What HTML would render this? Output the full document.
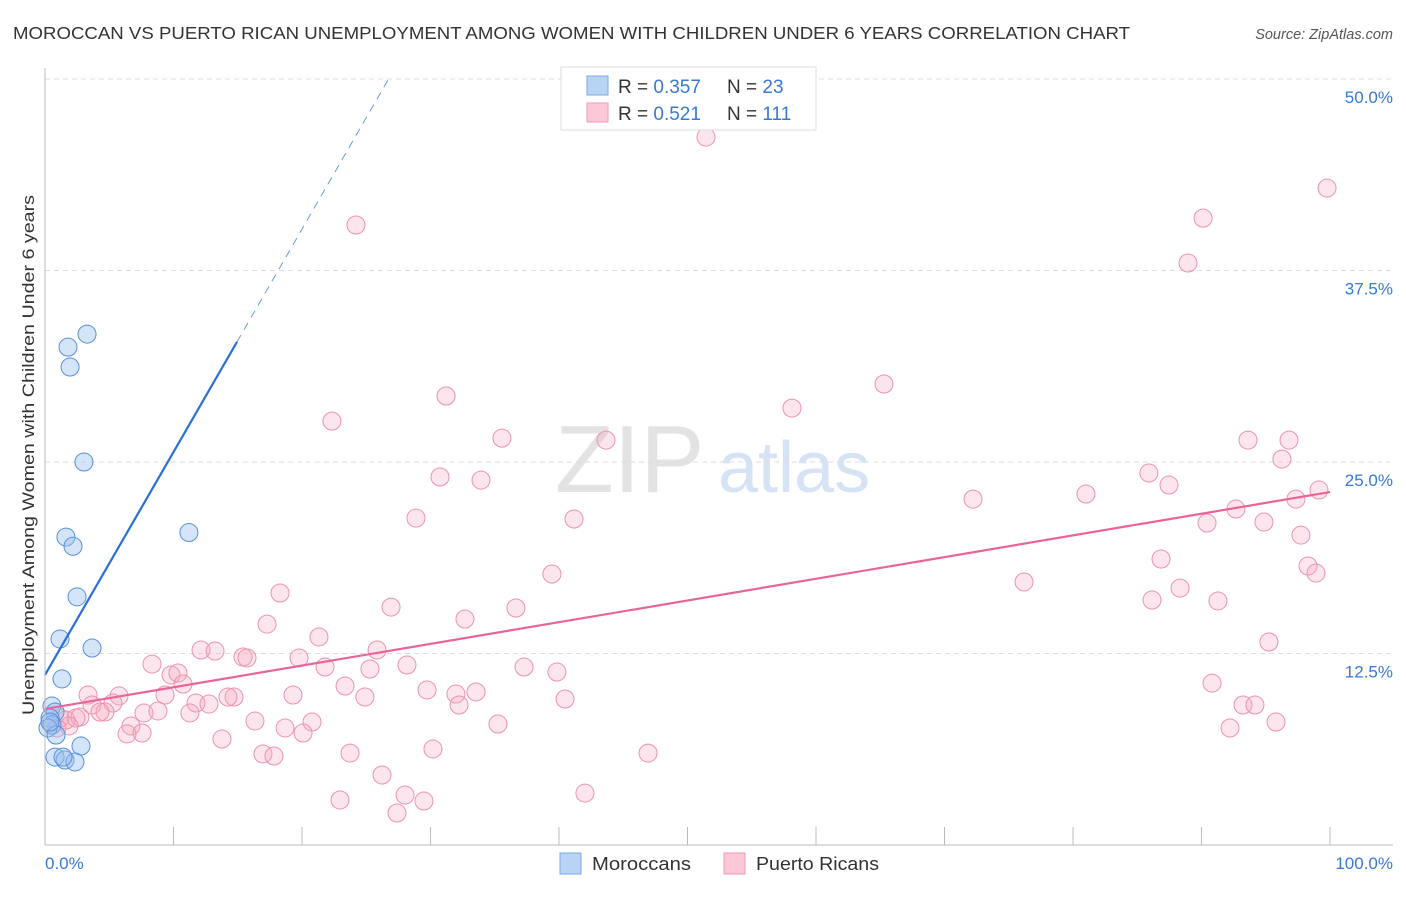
<!DOCTYPE html>
<html><head><meta charset="utf-8"><style>
body{margin:0;background:#fff;font-family:"Liberation Sans",sans-serif;}
svg text{font-family:"Liberation Sans",sans-serif;}
</style></head><body>
<svg id="chart" width="1406" height="892" viewBox="0 0 1406 892" xmlns="http://www.w3.org/2000/svg">
<text x="13" y="39" font-size="17.5" fill="#333" textLength="1117" lengthAdjust="spacingAndGlyphs">MOROCCAN VS PUERTO RICAN UNEMPLOYMENT AMONG WOMEN WITH CHILDREN UNDER 6 YEARS CORRELATION CHART</text>
<text x="1393" y="39" font-size="14.5" fill="#555" font-style="italic" text-anchor="end">Source: ZipAtlas.com</text>
<g>
<text x="555" y="492" font-size="96" font-family="Liberation Serif,serif" fill="#e3e3e3">ZIP</text>
<text x="718" y="492" font-size="72" fill="#d5e3f5">atlas</text>
</g>
<g id="grid"></g>
<g id="marks"></g>
<line x1="45" y1="68" x2="45" y2="845" stroke="#bbb"/>
<line x1="45" y1="845" x2="1393" y2="845" stroke="#bbb"/>
<text transform="translate(34,455) rotate(-90)" font-size="17" fill="#333" text-anchor="middle" textLength="520" lengthAdjust="spacingAndGlyphs">Unemployment Among Women with Children Under 6 years</text>
<text x="45" y="869" font-size="17" fill="#3a78d6">0.0%</text>
<text x="1393" y="869" font-size="17" fill="#3a78d6" text-anchor="end">100.0%</text>
<g>
<rect x="561" y="67" width="255" height="63" fill="#fff" stroke="#ddd"/>
<rect x="587" y="76" width="21" height="19" fill="#b9d3f5" stroke="#7aa7e3"/>
<rect x="587" y="103" width="21" height="19" fill="#fcc8d7" stroke="#ee9ab3"/>
<text x="618" y="93" font-size="19" fill="#333">R = <tspan fill="#3a78d6">0.357</tspan><tspan x="727">N = </tspan><tspan fill="#3a78d6"> 23</tspan></text>
<text x="618" y="120" font-size="19" fill="#333">R = <tspan fill="#3a78d6"> 0.521</tspan><tspan x="727">N = </tspan><tspan fill="#3a78d6">111</tspan></text>
</g>
<g>
<rect x="560" y="853" width="21" height="21" fill="#b9d3f5" stroke="#7aa7e3"/>
<text x="592" y="870" font-size="18" fill="#333" textLength="99" lengthAdjust="spacingAndGlyphs">Moroccans</text>
<rect x="724" y="853" width="21" height="21" fill="#fcc8d7" stroke="#ee9ab3"/>
<text x="756" y="870" font-size="18" fill="#333" textLength="123" lengthAdjust="spacingAndGlyphs">Puerto Ricans</text>
</g>
</svg>
<script>
const yTicks=[12.5,25,37.5,50];
const yTickLabels=["12.5%","25.0%","37.5%","50.0%"];
const xTicks=[10,20,30,40,50,60,70,80,90,100];
const moroccanX=[3.27,1.79,1.95,3.03,1.63,2.18,11.2,2.49,1.17,3.66,1.32,0.54,0.78,0.39,0.54,0.23,0.86,2.8,0.78,1.56,2.33,1.4,0.39];
const moroccanY=[33.35,32.5,31.2,25.0,20.1,19.5,20.4,16.2,13.45,12.86,10.84,9.07,8.68,8.29,7.83,7.64,7.18,6.46,5.74,5.55,5.42,5.74,8.03];
const prX=[51.44,99.77,24.2,90.12,88.95,65.29,31.21,58.13,22.33,35.56,43.66,93.62,96.81,96.26,85.91,30.74,33.93,87.47,81.01,72.22,99.14,97.35,92.68,28.87,41.17,90.43,94.86,97.74,86.85,39.45,98.29,98.91,76.19,18.29,88.33,86.15,91.28,26.93,36.65,32.68,17.28,21.32,95.25,12.14,13.23,25.84,15.41,15.72,19.77,8.33,28.17,21.79,37.28,25.29,39.84,9.81,10.35,10.74,23.35,90.82,9.34,14.71,19.3,29.73,31.98,33.54,3.35,5.76,14.24,24.9,40.47,3.66,5.29,11.75,12.76,32.22,93.23,94.16,4.67,7.7,8.79,11.28,1.17,1.63,2.41,2.72,1.87,0.93,16.34,20.78,6.69,18.68,35.25,95.8,92.22,6.38,7.55,20.08,13.77,30.19,23.74,46.93,16.96,17.82,26.23,28.02,42.02,22.96,29.49,27.39,4.28];
const prY=[46.21,42.88,40.47,40.92,37.99,30.09,29.31,28.52,27.67,26.56,26.43,26.43,26.43,25.19,24.28,24.02,23.82,23.5,22.91,22.58,23.17,22.58,21.93,21.34,21.28,21.02,21.08,20.23,18.67,17.69,18.21,17.75,17.17,16.45,16.77,15.99,15.93,15.53,15.47,14.75,14.42,13.58,13.25,12.73,12.66,12.73,12.27,12.21,12.21,11.81,11.75,11.62,11.62,11.49,11.29,11.1,11.23,10.51,10.38,10.57,9.79,9.66,9.79,10.12,9.86,9.99,9.79,9.73,9.66,9.66,9.53,9.14,9.27,9.27,9.2,9.14,9.14,9.14,8.68,8.62,8.75,8.62,8.29,8.16,8.29,8.35,7.77,7.64,8.09,8.03,7.77,7.64,7.9,8.03,7.64,7.25,7.31,7.31,6.92,6.27,6.0,6.0,5.94,5.81,4.57,3.26,3.39,2.94,2.87,2.09,8.68];
const moroccanTrend=[11.1,1.455];   // intercept, slope
const moroccanTrendEnd=[14.94,26.85]; // solid end x, dashed end x
const prTrend=[8.88,0.1416];
const prTrendEnd=[100];

const X=v=>45+v*12.85, Y=v=>845-v*15.32;
const NS="http://www.w3.org/2000/svg";
const grid=document.getElementById('grid'), marks=document.getElementById('marks');
function mk(tag,attrs,parent){const e=document.createElementNS(NS,tag);for(const k in attrs)e.setAttribute(k,attrs[k]);parent.appendChild(e);return e;}
yTicks.forEach((t,i)=>{
  const l=mk('line',{x1:45,x2:1393,y1:Y(t),y2:Y(t),stroke:'#ddd','stroke-dasharray':'5,4'},grid);
  
  
  const tx=mk('text',{x:1393,y:Y(t)+24,'font-size':17,fill:'#3a78d6','text-anchor':'end'},grid);
  tx.textContent=yTickLabels[i];
  
  
});
xTicks.forEach(t=>{
  const l=mk('line',{x1:X(t),x2:X(t),y1:827,y2:845,stroke:'#bbb'},grid);
  
  
});
prX.forEach((v,i)=>{
  const c=mk('circle',{cx:X(v),cy:Y(prY[i]),r:9,fill:'rgba(246,170,193,0.3)',stroke:'#eb93ae','stroke-width':1},marks);
  
  
});
moroccanX.forEach((v,i)=>{
  const c=mk('circle',{cx:X(v),cy:Y(moroccanY[i]),r:9,fill:'rgba(150,190,240,0.4)',stroke:'#5a8fd8','stroke-width':1},marks);
  
  
});
const f=(tr,x)=>tr[0]+tr[1]*x;
let l1=mk('line',{x1:X(0),y1:Y(f(moroccanTrend,0)),x2:X(moroccanTrendEnd[0]),y2:Y(f(moroccanTrend,moroccanTrendEnd[0])),stroke:'#2a6fd6','stroke-width':2.2},marks);


let l2=mk('line',{x1:X(moroccanTrendEnd[0]),y1:Y(f(moroccanTrend,moroccanTrendEnd[0])),x2:X(moroccanTrendEnd[1]),y2:Y(f(moroccanTrend,moroccanTrendEnd[1])),stroke:'#6a9be0','stroke-width':1,'stroke-dasharray':'8,6'},marks);


let l3=mk('line',{x1:X(0),y1:Y(f(prTrend,0)),x2:X(prTrendEnd[0]),y2:Y(f(prTrend,prTrendEnd[0])),stroke:'#e8649a','stroke-width':2.2},marks);


</script>
</body></html>
